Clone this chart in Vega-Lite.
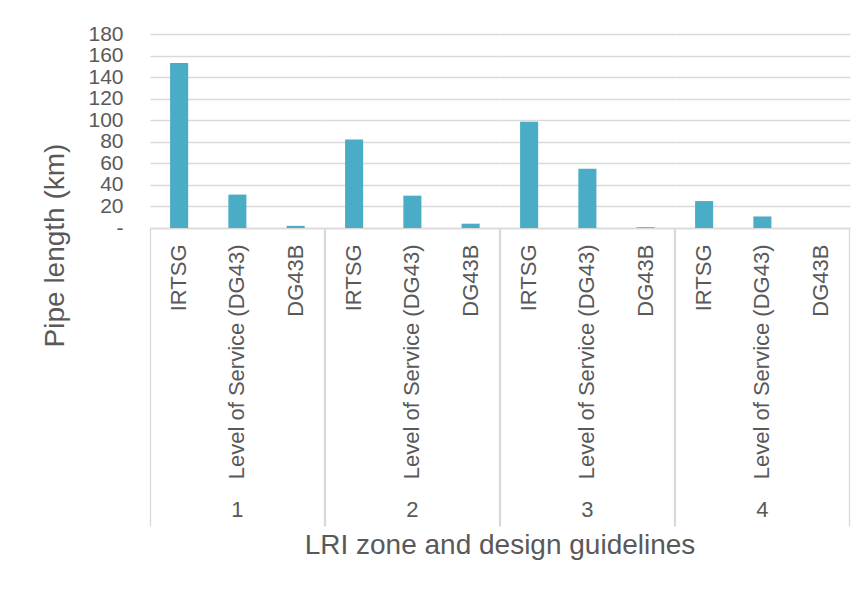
{
  "$schema": "https://vega.github.io/schema/vega-lite/v6.json",
  "background": "white",
  "padding": {"left": 41, "top": 23, "right": 5, "bottom": 5},
  "data": {
    "values": [
      {"zone": "1", "guideline": "IRTSG", "length": 153},
      {"zone": "1", "guideline": "Level of Service (DG43)", "length": 31},
      {"zone": "1", "guideline": "DG43B", "length": 2},
      {"zone": "2", "guideline": "IRTSG", "length": 82},
      {"zone": "2", "guideline": "Level of Service (DG43)", "length": 30},
      {"zone": "2", "guideline": "DG43B", "length": 4},
      {"zone": "3", "guideline": "IRTSG", "length": 98.5},
      {"zone": "3", "guideline": "Level of Service (DG43)", "length": 55},
      {"zone": "3", "guideline": "DG43B", "length": 0.7},
      {"zone": "4", "guideline": "IRTSG", "length": 25},
      {"zone": "4", "guideline": "Level of Service (DG43)", "length": 10.7},
      {"zone": "4", "guideline": "DG43B", "length": 0}
    ]
  },
  "facet": {
    "column": {
      "field": "zone",
      "type": "ordinal",
      "title": "LRI zone and design guidelines",
      "header": {
        "labelOrient": "bottom",
        "titleOrient": "bottom",
        "labelFont": "Liberation Sans",
        "labelFontSize": 22,
        "labelColor": "#595959",
        "labelPadding": -27,
        "titleFont": "Liberation Sans",
        "titleFontSize": 28,
        "titleFontWeight": "normal",
        "titleColor": "#595959",
        "titlePadding": -5
      }
    }
  },
  "spacing": 0,
  "spec": {
    "width": 174.75,
    "height": 194,
    "mark": {"type": "bar", "width": {"band": 0.31}, "color": "#4bacc6"},
    "encoding": {
      "x": {
        "field": "guideline",
        "type": "nominal",
        "sort": ["IRTSG", "Level of Service (DG43)", "DG43B"],
        "scale": {"paddingInner": 0, "paddingOuter": 0},
        "axis": {
          "title": null,
          "grid": false,
          "labelAngle": -90,
          "labelFont": "Liberation Sans",
          "labelFontSize": 22,
          "labelColor": "#595959",
          "labelLimit": 0,
          "labelPadding": -282,
          "domainColor": "#d9d9d9",
          "domainWidth": 1.3,
          "ticks": true,
          "tickSize": 298,
          "tickColor": "#d9d9d9",
          "tickWidth": 1.3,
          "bandPosition": 1,
          "tickExtra": true,
          "tickOpacity": {
            "condition": {"test": "datum.value === 'DG43B' || datum.index === -1", "value": 1},
            "value": 0
          }
        }
      },
      "y": {
        "field": "length",
        "type": "quantitative",
        "scale": {"domain": [0, 180], "nice": false},
        "axis": {
          "title": "Pipe length (km)",
          "titleFont": "Liberation Sans",
          "titleFontSize": 28,
          "titleFontWeight": "normal",
          "titleColor": "#595959",
          "titlePadding": 18,
          "titleY": 211,
          "values": [0, 20, 40, 60, 80, 100, 120, 140, 160, 180],
          "labelExpr": "datum.value === 0 ? '-' : datum.label",
          "labelFont": "Liberation Sans",
          "labelFontSize": 21,
          "labelColor": "#595959",
          "labelPadding": 27,
          "labelOverlap": false,
          "labelFlush": false,
          "ticks": false,
          "domain": false,
          "gridColor": "#d9d9d9",
          "gridWidth": 1.3
        }
      }
    }
  },
  "config": {"view": {"stroke": null}}
}
